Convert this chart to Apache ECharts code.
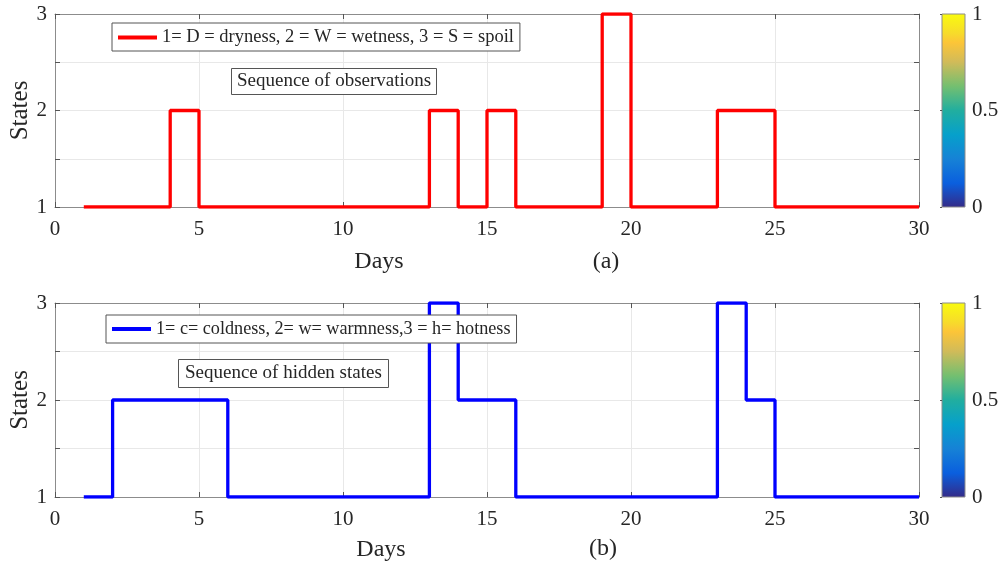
<!DOCTYPE html>
<html>
<head>
<meta charset="utf-8">
<script src="https://cdn.jsdelivr.net/npm/echarts@6/dist/echarts.min.js"></script>
<style>html,body{margin:0;padding:0;background:#fff}#c{width:1001px;height:569px}</style>
</head>
<body>
<div id="c"></div>
<script>
const days = [1,2,3,4,5,6,7,8,9,10,11,12,13,14,15,16,17,18,19,20,21,22,23,24,25,26,27,28,29,30];
const observations = [1,1,1,2,1,1,1,1,1,1,1,1,2,1,2,1,1,1,3,1,1,1,2,2,1,1,1,1,1,1];
const hiddenStates = [1,2,2,2,2,1,1,1,1,1,1,1,3,2,2,1,1,1,1,1,1,1,3,2,1,1,1,1,1,1];
const obsName = '1= D = dryness, 2 = W = wetness, 3 = S = spoil';
const hidName = '1= c= coldness, 2= w= warmness,3 = h= hotness';
const colorbarTicks = [0, 0.5, 1];

const FONT = 'Liberation Serif';
const TXT = '#262626';
const AX = '#8c8c8c';

const chart = echarts.init(document.getElementById('c'), null, {renderer: 'canvas'});

function xAxes(gi) {
  return [
    {gridIndex: gi, type: 'value', min: 0, max: 30, interval: 5, position: 'bottom',
     axisLine: {show: true, onZero: false, lineStyle: {color: AX, width: 1}},
     axisTick: {show: true, inside: true, length: 5, lineStyle: {color: '#555'}},
     axisLabel: {margin: 12, fontFamily: FONT, fontSize: 21, color: TXT},
     splitLine: {show: true, lineStyle: {color: '#e8e8e8', width: 1}}},
    {gridIndex: gi, type: 'value', min: 0, max: 30, interval: 5, position: 'top',
     axisLine: {show: true, onZero: false, lineStyle: {color: AX, width: 1}},
     axisTick: {show: true, inside: true, length: 5, lineStyle: {color: '#555'}},
     axisLabel: {show: false}, splitLine: {show: false}}
  ];
}
function yAxes(gi) {
  return [
    {gridIndex: gi, type: 'value', min: 1, max: 3, interval: 0.5, position: 'left',
     name: 'States', nameLocation: 'middle', nameGap: 22, nameMoveOverlap: false,
     nameTextStyle: {fontFamily: FONT, fontSize: 25, color: TXT},
     axisLine: {show: true, onZero: false, lineStyle: {color: AX, width: 1}},
     axisTick: {show: true, inside: true, length: 5, lineStyle: {color: '#555'}},
     axisLabel: {margin: 8, fontFamily: FONT, fontSize: 21, color: TXT,
       formatter: v => (Number.isInteger(v) ? String(v) : '')},
     splitLine: {show: true, lineStyle: {color: '#e8e8e8', width: 1}}},
    {gridIndex: gi, type: 'value', min: 1, max: 3, interval: 0.5, position: 'right',
     axisLine: {show: true, onZero: false, lineStyle: {color: AX, width: 1}},
     axisTick: {show: true, inside: true, length: 5, lineStyle: {color: '#555'}},
     axisLabel: {show: false}, splitLine: {show: false}}
  ];
}
const parula = () => new echarts.graphic.LinearGradient(0, 0, 0, 1, [
  {offset: 0, color: '#f9fb0e'},
  {offset: 0.1, color: '#f7dc2a'},
  {offset: 0.15, color: '#fcc538'},
  {offset: 0.25, color: '#d1bb59'},
  {offset: 0.375, color: '#74bf70'},
  {offset: 0.5, color: '#21ae9f'},
  {offset: 0.625, color: '#06a0cb'},
  {offset: 0.75, color: '#1682d6'},
  {offset: 0.875, color: '#0a5fde'},
  {offset: 1, color: '#352a87'}
]);
function cbX(gi) { return {gridIndex: gi, type: 'value', min: 0, max: 1, show: false}; }
function cbY(gi) {
  return {gridIndex: gi, type: 'value', min: 0, max: 1, interval: 0.5, position: 'right',
    axisLine: {show: false}, splitLine: {show: false},
    axisTick: {show: true, inside: true, length: 2, lineStyle: {color: '#555'}},
    axisLabel: {margin: 7, fontFamily: FONT, fontSize: 21, color: TXT,
      formatter: v => (colorbarTicks.includes(v) ? String(v) : '')}};
}

const boxText = (s) => ({fontFamily: FONT, fontSize: s, fontWeight: 'normal', color: TXT});
const BOXC = '#555';

const option = {
  animation: false,
  backgroundColor: '#fff',
  grid: [
    {left: 55, top: 14, width: 864, height: 193, outerBoundsMode: 'none', containLabel: false},
    {left: 55, top: 303, width: 864, height: 194, outerBoundsMode: 'none', containLabel: false},
    {left: 942, top: 14, width: 23, height: 193, outerBoundsMode: 'none', show: true, backgroundColor: parula(), borderColor: AX, borderWidth: 1},
    {left: 942, top: 303, width: 23, height: 194, outerBoundsMode: 'none', show: true, backgroundColor: parula(), borderColor: AX, borderWidth: 1}
  ],
  xAxis: [...xAxes(0), ...xAxes(1), cbX(2), cbX(3)],
  yAxis: [...yAxes(0), ...yAxes(1), cbY(2), cbY(3)],
  legend: [
    {data: [obsName], left: 112, top: 23, orient: 'horizontal', icon: 'rect',
     itemWidth: 39, itemHeight: 4, itemGap: 4, padding: [5, 6, 4, 6],
     borderColor: BOXC, borderWidth: 1, backgroundColor: '#fff', borderRadius: 0,
     textStyle: boxText(18.5)},
    {data: [hidName], left: 106, top: 315, orient: 'horizontal', icon: 'rect',
     itemWidth: 39, itemHeight: 4, itemGap: 4, padding: [5, 6, 5, 6],
     borderColor: BOXC, borderWidth: 1, backgroundColor: '#fff', borderRadius: 0,
     textStyle: boxText(18.2)}
  ],
  title: [
    {text: 'Sequence of observations', left: 231, top: 68, padding: [4, 6, 4, 6],
     borderColor: BOXC, borderWidth: 1, backgroundColor: '#fff', textStyle: boxText(19)},
    {text: 'Sequence of hidden states', left: 178, top: 359, padding: [5, 7, 5, 7],
     borderColor: BOXC, borderWidth: 1, backgroundColor: '#fff', textStyle: boxText(19)}
  ],
  graphic: [
    {type: 'text', x: 379, y: 262, style: {text: 'Days', fontFamily: FONT, fontSize: 24, fill: TXT, align: 'center', verticalAlign: 'middle'}},
    {type: 'text', x: 606, y: 262, style: {text: '(a)', fontFamily: FONT, fontSize: 24, fill: TXT, align: 'center', verticalAlign: 'middle'}},
    {type: 'text', x: 381, y: 550, style: {text: 'Days', fontFamily: FONT, fontSize: 24, fill: TXT, align: 'center', verticalAlign: 'middle'}},
    {type: 'text', x: 603, y: 549, style: {text: '(b)', fontFamily: FONT, fontSize: 24, fill: TXT, align: 'center', verticalAlign: 'middle'}}
  ],
  series: [
    {name: obsName, type: 'line', xAxisIndex: 0, yAxisIndex: 0, step: 'end', symbol: 'none',
     data: days.map((d, i) => [d, observations[i]]),
     lineStyle: {color: '#ff0000', width: 3.3}, itemStyle: {color: '#ff0000'}},
    {name: hidName, type: 'line', xAxisIndex: 2, yAxisIndex: 2, step: 'end', symbol: 'none',
     data: days.map((d, i) => [d, hiddenStates[i]]),
     lineStyle: {color: '#0000ff', width: 3.3}, itemStyle: {color: '#0000ff'}}
  ]
};
chart.setOption(option);
</script>
</body>
</html>
